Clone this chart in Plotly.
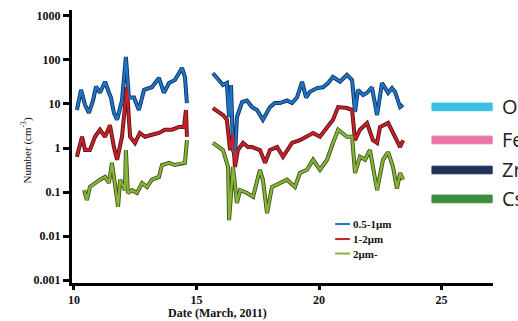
import plotly.graph_objects as go

# ---- data (days in March 2011, number concentration cm^-3) ----
blue_day = [10.12, 10.29, 10.45, 10.61, 10.78, 10.90, 11.06, 11.27, 11.43, 11.51, 11.63, 11.76, 11.96,
            12.12, 12.24, 12.45, 12.65, 12.86, 13.18, 13.47, 13.67, 13.88, 14.12, 14.41, 14.53, 14.61,
            None,
            15.67, 15.88, 16.08, 16.24, 16.33, 16.41, 16.49, 16.57, 16.65, 16.86, 17.06, 17.27, 17.47,
            17.71, 18.00, 18.20, 18.41, 18.69, 18.90, 19.10, 19.31, 19.47, 19.63, 19.92, 20.16, 20.37,
            20.57, 20.86, 21.14, 21.35, 21.47, 21.59, 21.80, 21.96, 22.16, 22.37, 22.57, 22.82, 22.98,
            23.10, 23.31, 23.43]
blue_val = [7.3, 21, 9.6, 6.3, 12, 25, 18, 32, 18, 14, 6.3, 4.4, 12,
            117, 14, 14, 7.3, 21, 24, 39, 18, 30, 35, 66, 41, 10.5,
            None,
            50, 35, 27, 30, 5.0, 27, 0.9, 0.63, 5.0, 11, 12, 8.5, 7.3,
            4.4, 8.5, 10.5, 10.5, 12, 10.5, 14, 32, 14, 19, 23, 24, 30,
            41, 32, 46, 35, 6.6, 21, 16, 18, 24, 5.6, 30, 18, 23,
            19, 8.5, 9.5]

red_day = [10.12, 10.33, 10.45, 10.65, 10.86, 11.06, 11.27, 11.47, 11.63, 11.76, 11.96, 12.16, 12.29,
           12.49, 12.69, 12.90, 13.18, 13.47, 13.71, 14.00, 14.29, 14.49, 14.57, 14.61,
           None,
           15.67, 16.08, 16.24, 16.37, 16.49, 16.57, 16.69, 16.90, 17.10, 17.27, 17.59, 17.80, 18.00,
           18.29, 18.53, 18.90, 19.22, 19.51, 19.76, 20.04, 20.33, 20.57, 20.78, 21.14, 21.35, 21.47,
           21.67, 21.96, 22.20, 22.37, 22.49, 22.82, 23.10, 23.31, 23.43]
red_val = [0.63, 1.8, 0.9, 0.9, 1.8, 2.6, 1.8, 3.3, 1.05, 0.54, 1.8, 24, 1.8,
           1.3, 2.2, 1.8, 2.0, 2.2, 2.6, 2.6, 3.0, 3.0, 7.3, 1.8,
           None,
           8.1, 5.6, 4.4, 0.9, 2.0, 0.37, 0.9, 1.3, 1.05, 1.05, 0.9, 0.46, 0.9,
           1.05, 0.63, 1.3, 1.5, 1.8, 2.2, 1.8, 3.0, 4.4, 8.5, 8.1, 7.3, 1.5,
           2.6, 3.7, 1.5, 1.3, 3.0, 3.7, 1.8, 1.05, 1.5]

green_day = [10.41, 10.53, 10.65, 10.86, 11.06, 11.27, 11.43, 11.55, 11.67, 11.80, 11.88, 12.08, 12.12,
             12.20, 12.37, 12.57, 12.78, 12.98, 13.18, 13.47, 13.59, 13.88, 14.12, 14.41, 14.53, 14.61,
             None,
             15.67, 16.08, 16.29, 16.33, 16.49, 16.65, 16.78, 17.06, 17.31, 17.59, 17.71, 17.88, 18.08,
             18.41, 18.69, 19.02, 19.22, 19.51, 19.76, 20.04, 20.33, 20.57, 20.78, 21.14, 21.35, 21.47,
             21.67, 21.88, 22.08, 22.37, 22.61, 22.82, 23.02, 23.18, 23.31, 23.43]
green_val = [0.11, 0.066, 0.13, 0.16, 0.19, 0.22, 0.16, 0.46, 0.16, 0.046, 0.19, 0.11, 0.9,
             0.095, 0.11, 0.095, 0.16, 0.13, 0.19, 0.22, 0.41, 0.46, 0.41, 0.46, 0.46, 1.5,
             None,
             1.3, 0.9, 0.37, 0.023, 0.37, 0.056, 0.11, 0.095, 0.078, 0.32, 0.19, 0.033, 0.13,
             0.16, 0.19, 0.13, 0.27, 0.32, 0.54, 0.32, 0.54, 1.3, 2.6, 1.8, 1.8, 0.27,
             0.63, 0.54, 0.9, 0.11, 0.54, 0.81, 0.37, 0.12, 0.27, 0.19]

series_names = ["0.5-1\u03bcm", "1-2\u03bcm", "2\u03bcm-"]
series_colors = ["#1f74c4", "#c42229", "#86b43a"]
series_edge = ["#0d2f5e", "#5c1014", "#3d5216"]

y_tickvals = [0.001, 0.01, 0.1, 1, 10, 100, 1000]
y_ticktext = ["0.001", "0.01", "0.1", "1", "10", "100", "1000"]
x_tickvals = [10, 15, 20, 25]

side_labels = ["O", "Fe", "Zr", "Cs"]
side_colors = ["#3cbfe2", "#ea74aa", "#1d3358", "#3a8e3c"]

serif = "Liberation Serif"
Y_LOG = [-3.068, 3.136]

fig = go.Figure()
data = [(blue_day, blue_val), (red_day, red_val), (green_day, green_val)]
for (d, v), edge in zip(data, series_edge):
    fig.add_trace(go.Scatter(x=d, y=v, mode="lines", line=dict(color=edge, width=4.0),
                             showlegend=False, hoverinfo="skip", connectgaps=False))
for (d, v), name, col in zip(data, series_names, series_colors):
    fig.add_trace(go.Scatter(x=d, y=v, mode="lines", name=name, showlegend=False,
                             line=dict(color=col, width=2.3), connectgaps=False))

# legend drawn in the figure's own style: short line + label
leg_y = [0.216, 0.161, 0.108]
for name, col, yy in zip(series_names, series_colors, leg_y):
    fig.add_shape(type="line", xref="paper", yref="paper", x0=0.625, x1=0.660, y0=yy, y1=yy,
                  line=dict(color=col, width=2))
    fig.add_annotation(xref="paper", yref="paper", x=0.662, y=yy, text=name, showarrow=False,
                       xanchor="left", yanchor="middle",
                       font=dict(family=serif, size=11, color="#111111", weight="bold"))

# partial legend of a neighbouring panel (cut off at the right edge)
bar_y = [0.645, 0.524, 0.414, 0.308]
for lab, col, yy in zip(side_labels, side_colors, bar_y):
    fig.add_shape(type="rect", xref="paper", yref="paper", x0=0.855, x1=0.998,
                  y0=yy - 0.014, y1=yy + 0.014, fillcolor=col, line=dict(color=col, width=1))
    fig.add_annotation(xref="paper", yref="paper", x=1.0166, y=yy, text=lab, showarrow=False,
                       xanchor="left", yanchor="middle",
                       font=dict(family="Open Sans", size=20, color="#222222"))

fig.add_annotation(xref="paper", yref="paper", x=-0.131, y=0.487, text="Number (cm<sup>-3</sup>)",
                   textangle=-90, showarrow=False, font=dict(family=serif, size=11, color="#111111"))
fig.add_annotation(xref="paper", yref="paper", x=0.223, y=-0.11, text="Date (March, 2011)",
                   showarrow=False, yanchor="middle",
                   font=dict(family=serif, size=12, color="#111111", weight="bold"))

fig.update_layout(
    width=518, height=321,
    margin=dict(l=72, r=25, t=10, b=38, autoexpand=False),
    paper_bgcolor="white", plot_bgcolor="white",
    showlegend=False,
    xaxis=dict(range=[9.92, 27.1], tickvals=x_tickvals, showgrid=False, zeroline=False,
               showline=True, linecolor="black", linewidth=3, ticks="outside", ticklen=4,
               tickwidth=3, tickcolor="black", automargin=False,
               tickfont=dict(family=serif, size=12, color="#111111", weight="bold")),
    yaxis=dict(type="log", range=Y_LOG, tickvals=y_tickvals, ticktext=y_ticktext,
               showgrid=False, zeroline=False, showline=True, linecolor="black", linewidth=3,
               ticks="outside", ticklen=6, tickwidth=3, tickcolor="black", automargin=False,
               tickfont=dict(family=serif, size=12, color="#111111", weight="bold")),
)

fig.write_html("out.html", config={"displayModeBar": False},
               post_script="document.body.style.margin='0';document.body.style.overflow='hidden';")
